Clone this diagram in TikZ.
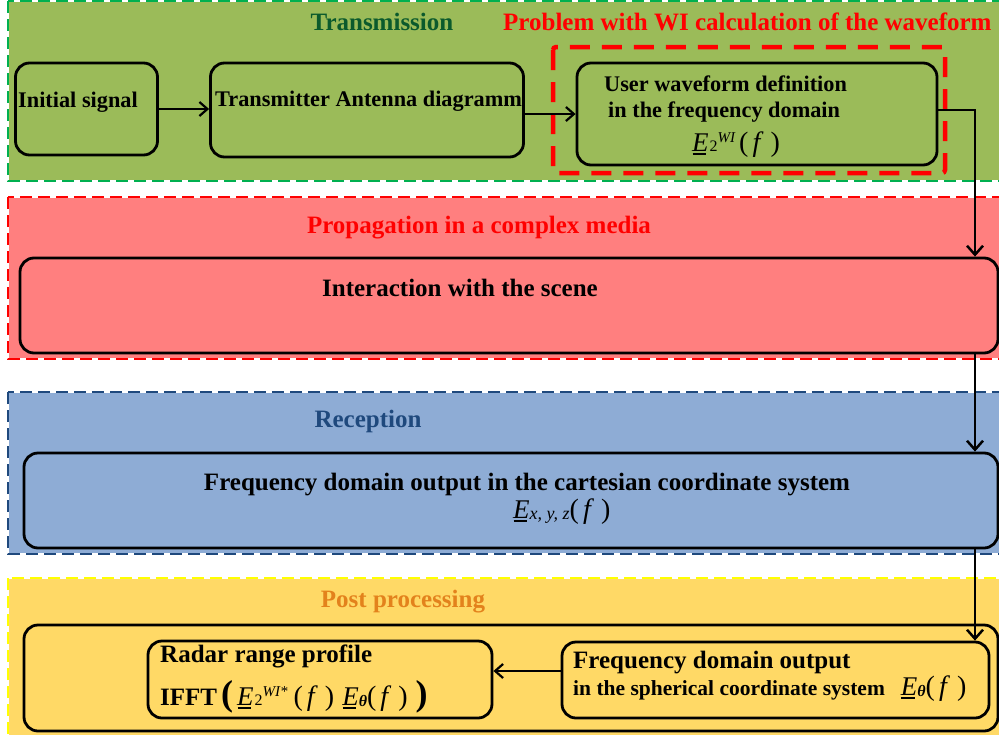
\documentclass[tikz,border=0pt]{standalone}
\usepackage{fontspec}
\setmainfont{Liberation Serif}
\usetikzlibrary{arrows.meta}

\definecolor{bgGreen}{HTML}{9BBB59}
\definecolor{lnGreen}{HTML}{00B050}
\definecolor{txGreen}{HTML}{0B5A2C}
\definecolor{bgRed}{HTML}{FF7F7F}
\definecolor{bgBlue}{HTML}{8EACD5}
\definecolor{lnBlue}{HTML}{1F497D}
\definecolor{bgYellow}{HTML}{FFD966}
\definecolor{lnYellow}{HTML}{FFFF00}
\definecolor{txOrange}{HTML}{E3821C}

% field quantities
\newcommand\ulE{{\fontsize{27}{27}\selectfont\mdseries\rlap{\kern0.5pt\rule[-3.5pt]{13.5pt}{1.8pt}}\textit{E}}}
\newcommand\fofpar{{\fontsize{28}{28}\selectfont\mdseries(\kern4pt\textit{f}\kern7pt)}}
\newcommand\Etwo[1]{\ulE\kern1pt{\fontsize{16}{16}\selectfont\mdseries\upshape 2}\raisebox{9pt}{\fontsize{15}{15}\selectfont\mdseries\itshape #1}}
\newcommand\Etheta{\ulE\raisebox{-1pt}{\fontsize{16}{16}\selectfont\bfseries\itshape θ}}

\tikzset{
  bandline/.style={line width=2pt, dash pattern=on 12pt off 6pt},
  box/.style={draw=black, line width=2.8pt, rounded corners=14pt, inner sep=0pt},
  lbl/.style={font=\fontsize{25}{29}\selectfont\bfseries, inner sep=0pt},
  slbl/.style={font=\fontsize{22.3}{26}\selectfont\bfseries, inner sep=0pt},
  arr/.style={line width=2.5pt, -{Straight Barb[length=9pt,width=16pt]}},
  harr/.style={line width=2.2pt, -{Straight Barb[length=8pt,width=14pt]}},
}

\begin{document}
\begin{tikzpicture}[x=1pt, y=-1pt]
\useasboundingbox (0,0) rectangle (999,734);
\clip (0,0) rectangle (999,734);

% stage bands
\fill[bgGreen] (8,1) rectangle (1010,181);
\draw[white, line width=2pt] (8,1) rectangle (1010,181);
\draw[lnGreen, bandline] (8,1) rectangle (1010,181);

\fill[bgRed] (8,197) rectangle (1010,359);
\draw[white, line width=2pt] (8,197) rectangle (1010,359);
\draw[red, bandline] (8,197) rectangle (1010,359);

\fill[bgBlue] (8,392) rectangle (1010,554);
\draw[white, line width=2pt] (8,392) rectangle (1010,554);
\draw[lnBlue, bandline] (8,392) rectangle (1010,554);

\fill[bgYellow] (8,578) rectangle (1010,745);
\draw[white, line width=2pt] (8,578) rectangle (1010,745);
\draw[lnYellow, bandline] (8,578) rectangle (1010,745);

% stage titles
\node[lbl, text=txGreen, anchor=base] (tTrans) at (382,30) {Transmission};
\node[lbl, text=red, anchor=base west] (tProb) at (503,30) {Problem with WI calculation of the waveform};
\node[lbl, text=red, anchor=base] (tProp) at (479,233) {Propagation in a complex media};
\node[lbl, text=lnBlue, anchor=base] (tRec) at (368,427) {Reception};
\node[lbl, text=txOrange, anchor=base] (tPost) at (403,607) {Post processing};

% problem frame
\draw[red, line width=4.5pt, dash pattern=on 20pt off 12pt, rounded corners=3pt] (553,47) rectangle (945,173);

% processing boxes
\node[box, minimum width=142, minimum height=92] (init) at (86.5,109) {};
\node[box, minimum width=313, minimum height=94] (trans) at (367,110) {};
\node[box, minimum width=360, minimum height=102] (user) at (757,114) {};
\node[box, minimum width=978, minimum height=95] (inter) at (509,305.5) {};
\node[box, minimum width=974, minimum height=95] (cart) at (511,500.5) {};
\node[box, minimum width=974, minimum height=106] (post) at (511,678) {};
\node[box, minimum width=344, minimum height=77] (radar) at (320,679.5) {};
\node[box, minimum width=427, minimum height=76] (sph) at (775.5,680) {};

% box texts
\node[slbl, anchor=base west] (tInit) at (18,107) {Initial signal};
\node[slbl, anchor=base west] (tTx) at (215,106) {Transmitter Antenna diagramm};
\node[slbl, anchor=base west] (tUser1) at (604,91) {User waveform definition};
\node[slbl, anchor=base west] (tUser2) at (608,117) {in the frequency domain};
\node[lbl, anchor=base west] (tUser3) at (692,151) {\Etwo{WI}\kern4pt\fofpar};
\node[lbl, anchor=base] (tInter) at (460,296) {Interaction with the scene};
\node[lbl, anchor=base] (tCart1) at (527,490) {Frequency domain output in the cartesian coordinate system};
\node[lbl, anchor=base west] (tCart2) at (513,518)
  {\ulE\raisebox{-1pt}{\fontsize{18}{18}\selectfont\mdseries\itshape x, y, z}\fofpar};
\node[lbl, anchor=base west] (tRad1) at (160,662) {Radar range profile};
\node[lbl, anchor=base west] (tRad2) at (160,705)
  {IFFT\kern4pt{\fontsize{36}{36}\selectfont(}\kern4pt\Etwo{WI*}\kern6pt\fofpar\kern8pt\Etheta\fofpar\kern8pt{\fontsize{36}{36}\selectfont)}};
\node[lbl, anchor=base west] (tSph1) at (573,668) {Frequency domain output};
\node[slbl, anchor=base west, font=\fontsize{21.5}{26}\selectfont\bfseries] (tSph2) at (573,695)
  {in the spherical coordinate system\kern16pt\Etheta\fofpar};

% signal flow
\coordinate (cx) at (975,0);
\draw[harr] (init.east) -- (init.east -| trans.west);
\draw[harr] (trans.east |- user.west) -- (user.west);
\draw[arr] ([yshift=4pt]user.east) -| (inter.north -| cx);
\draw[arr] (inter.south -| cx) -- (cart.north -| cx);
\draw[arr] (cart.south -| cx) -- (sph.north -| cx);
\draw[harr] ([yshift=9pt]sph.west) -- ([yshift=9pt]sph.west -| radar.east);
\end{tikzpicture}
\end{document}
